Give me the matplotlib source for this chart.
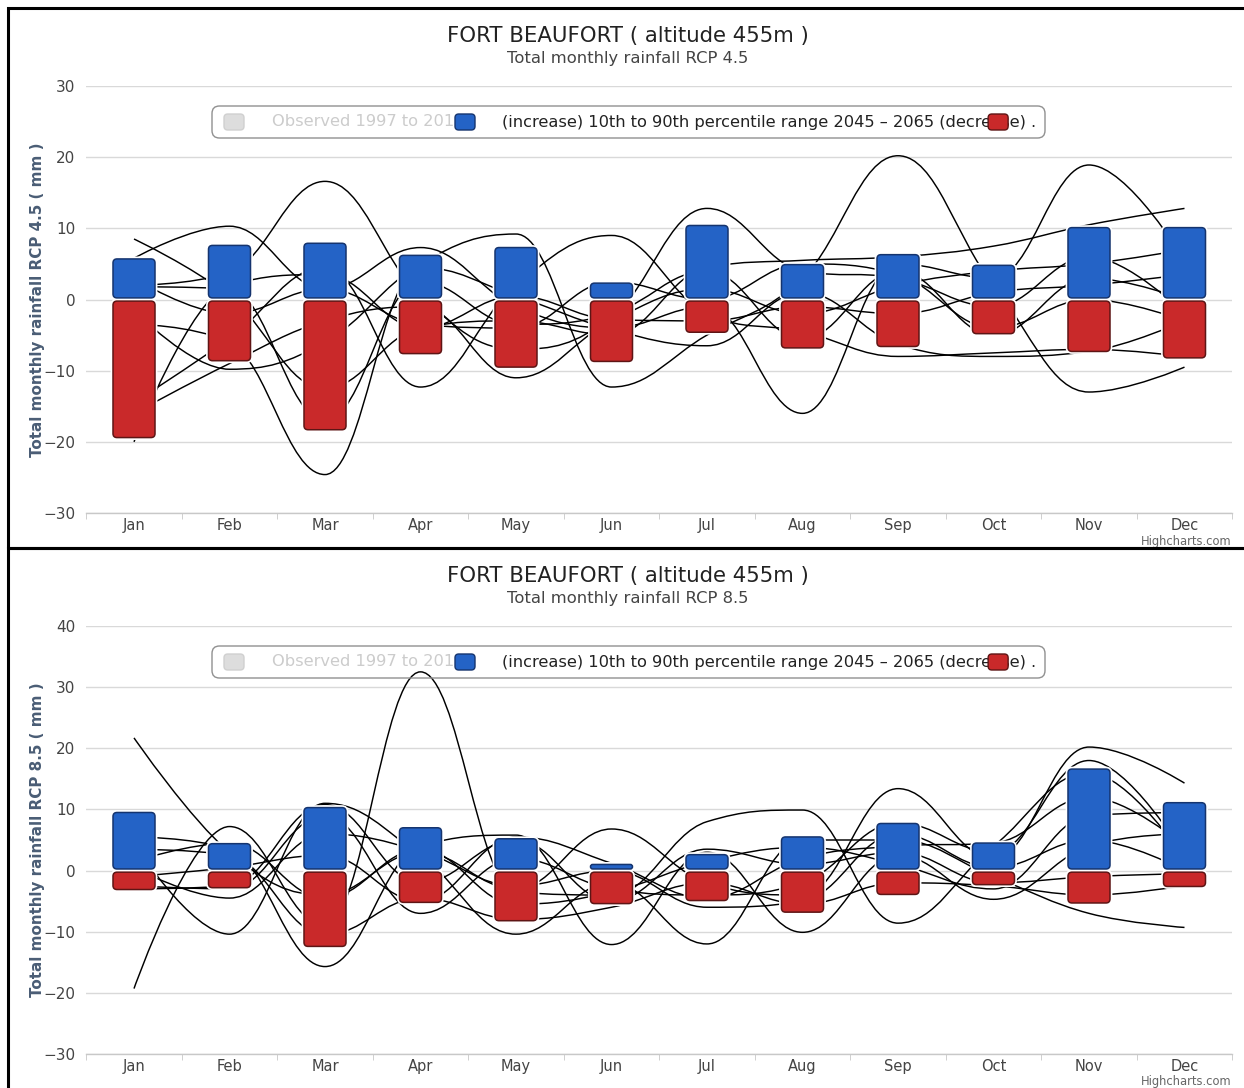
import matplotlib
matplotlib.use("Agg")
import matplotlib.pyplot as plt
import numpy as np
from matplotlib.path import Path
from matplotlib.patches import PathPatch, FancyBboxPatch, Rectangle

months = ['Jan', 'Feb', 'Mar', 'Apr', 'May', 'Jun',
          'Jul', 'Aug', 'Sep', 'Oct', 'Nov', 'Dec']

# 10th-90th percentile range 2045-2065, RCP 4.5 (mm)
rcp45_increase = [5.7, 7.6, 7.9, 6.2, 7.3, 2.3, 10.4, 4.9, 6.3, 4.8, 10.1, 10.1]
rcp45_decrease = [-19.4, -8.6, -18.3, -7.6, -9.5, -8.7, -4.6, -6.8, -6.6, -4.8, -7.3, -8.2]

# individual model projections, RCP 4.5 (mm)
rcp45_models = [
    [8.5, 0.5, -12.5, -4.0, -3.0, -5.0, 4.5, 5.5, 6.0, 7.5, 10.5, 12.8],
    [2.0, 3.8, 16.6, 0.5, -7.0, -2.5, 12.8, 4.0, 3.0, -1.0, 6.0, -2.0],
    [5.8, 10.3, 1.5, 7.3, -1.0, -4.0, -1.0, -16.0, 5.0, 3.0, 18.9, 5.5],
    [-1.5, -9.8, -6.0, 5.0, 9.2, -12.3, -5.0, 3.0, 20.2, 2.0, -13.0, -9.5],
    [-3.5, -6.0, -24.6, 4.5, 0.5, -4.2, -6.5, 1.0, -6.3, -8.0, -7.3, -3.0],
    [-14.5, -5.5, 4.5, -12.3, 2.0, 9.0, -2.0, -4.5, -8.0, -7.5, -7.0, -8.0],
    [-16.0, -9.0, -3.0, -1.0, -11.0, -3.0, 1.5, -2.0, 2.0, 4.0, 5.0, 7.0],
    [1.8, 1.5, -17.0, 2.5, -3.5, -2.0, 4.0, -5.5, 4.0, -5.0, 3.0, 0.0],
    [-20.0, 2.0, 3.5, -4.0, 0.5, -2.8, -3.0, -1.0, -2.0, 1.0, 2.0, 3.5],
    [3.0, -2.0, 1.5, -3.5, -4.0, 2.5, 0.0, 5.0, 3.5, -4.0, 0.0, -3.0],
]

# 10th-90th percentile range 2045-2065, RCP 8.5 (mm)
rcp85_increase = [9.5, 4.4, 10.3, 7.0, 5.2, 1.0, 2.6, 5.5, 7.7, 4.5, 16.6, 11.1]
rcp85_decrease = [-3.1, -2.8, -12.4, -5.2, -8.2, -5.4, -4.9, -6.8, -3.9, -2.3, -5.3, -2.6]

# individual model projections, RCP 8.5 (mm)
rcp85_models = [
    [21.7, 3.0, -4.0, 3.0, -3.0, 6.8, -2.0, -4.0, 13.4, 2.0, 20.2, 14.3],
    [-19.3, 7.2, -9.0, 32.5, -3.5, -4.0, 8.0, 9.9, -8.6, 4.0, 16.0, 2.0],
    [4.5, -10.4, 11.0, 2.5, -10.4, -2.0, -12.0, 5.0, 5.0, -1.0, -7.0, -9.3],
    [5.5, 3.5, -15.7, 4.0, 5.8, -12.1, 3.0, -10.1, 2.5, -4.7, 4.0, 6.0],
    [-2.5, -3.0, 9.0, -7.0, 2.0, -3.0, -4.0, -2.0, 7.8, 3.0, 18.0, 2.5],
    [1.5, 4.5, -4.5, 3.5, -5.5, -3.5, 1.5, 3.8, 1.0, -3.0, 9.0, 9.5],
    [-3.0, -2.5, 10.8, -2.0, 5.0, -5.0, 3.5, 1.0, 3.0, -2.0, -1.0, -0.5],
    [0.5, -4.5, 6.0, 3.2, -2.5, 0.0, -6.0, -5.0, 6.0, 0.5, 5.0, 0.0],
    [3.5, 2.5, -10.5, -4.5, -8.0, -6.0, -2.0, -5.5, -2.0, -2.5, -4.0, -2.5],
    [-1.0, 0.5, 2.5, -5.0, 5.5, 1.2, -4.5, 2.0, 4.0, 4.5, 12.0, 4.0],
]

BLUE = '#2463c6'
BLUE_EDGE = '#15346e'
RED = '#c9292a'
RED_EDGE = '#5e1515'
W, H = 1244, 1088

fig = plt.figure(figsize=(W / 100, H / 100), dpi=100)
fig.patch.set_facecolor('white')
renderer = fig.canvas.get_renderer()


def fx(px):
    return px / W


def fy(py):
    return 1 - py / H


def text_width(s, size):
    t = fig.text(0, 0, s, fontsize=size)
    w = t.get_window_extent(renderer).width
    t.remove()
    return w


def spline_path(xs, ys, smoothing=1.5):
    # Highcharts-style spline: cubic segments with smoothed control points
    n = len(xs)
    den = smoothing + 1
    lc, rc = [], []
    for i in range(n):
        x, y = xs[i], ys[i]
        if 0 < i < n - 1:
            lx, ly = xs[i - 1], ys[i - 1]
            nx, ny = xs[i + 1], ys[i + 1]
            lcx = (smoothing * x + lx) / den
            lcy = (smoothing * y + ly) / den
            rcx = (smoothing * x + nx) / den
            rcy = (smoothing * y + ny) / den
            corr = (rcy - lcy) * (rcx - x) / (rcx - lcx) + y - rcy
            lcy += corr
            rcy += corr
            if lcy > ly and lcy > y:
                lcy = max(ly, y)
                rcy = 2 * y - lcy
            elif lcy < ly and lcy < y:
                lcy = min(ly, y)
                rcy = 2 * y - lcy
            if rcy > ny and rcy > y:
                rcy = max(ny, y)
                lcy = 2 * y - rcy
            elif rcy < ny and rcy < y:
                rcy = min(ny, y)
                lcy = 2 * y - rcy
            lc.append((lcx, lcy))
            rc.append((rcx, rcy))
        else:
            lc.append((x, y))
            rc.append((x, y))
    verts = [(xs[0], ys[0])]
    codes = [Path.MOVETO]
    for i in range(1, n):
        verts += [rc[i - 1], lc[i], (xs[i], ys[i])]
        codes += [Path.CURVE4] * 3
    return Path(verts, codes)


def rounded_bar(ax, x, y0, y1, width, color, edge, px_x, px_y):
    # column with rounded corners; px_x / px_y are pixels per data unit
    h = abs(y1 - y0)
    aspect = px_x / px_y
    r = min(4.0 / px_x, 0.5 * h / aspect, 0.5 * width)
    bottom = min(y0, y1)
    for lw, fc, ec, z in [(3.5, 'white', 'white', 3), (1.1, color, edge, 4)]:
        p = FancyBboxPatch((x - width / 2, bottom), width, h,
                           boxstyle=f"round,pad=0,rounding_size={r}",
                           mutation_aspect=aspect, facecolor=fc,
                           edgecolor=ec, linewidth=lw, zorder=z)
        ax.add_patch(p)


def legend_square(x0, yc, fc, ec):
    fig.add_artist(FancyBboxPatch((fx(x0), fy(yc + 8)), fx(20), fy(yc - 8) - fy(yc + 8),
                                  boxstyle='round,pad=0,rounding_size=0.003',
                                  mutation_aspect=W / H,
                                  transform=fig.transFigure, facecolor=fc,
                                  edgecolor=ec, linewidth=1.0, zorder=7))


LEG_SIZE = 11.7
LEG_TEXT = ('(increase) 10th to 90th percentile range 2045 \u2013 2065 '
            '(decrease) .')
# the red symbol lands on top of the "as" of "decrease"
red_x = 502 + text_width(LEG_TEXT[:LEG_TEXT.rindex('ase')], LEG_SIZE) - 3


def draw_panel(top_px, bottom_px, ymin, ymax, inc, dec, models, rcp, panel_top):
    ax = fig.add_axes([fx(86.25), fy(bottom_px), fx(1232.25) - fx(86.25),
                       fy(top_px) - fy(bottom_px)])
    ax.set_xlim(-0.5, 11.5)
    ax.set_ylim(ymin, ymax)
    ax.set_facecolor('none')
    ax.set_yticks(np.arange(ymin, ymax + 1, 10))
    ax.grid(axis='y', color='#d9d9d9', linewidth=1.0, zorder=0)
    ax.set_axisbelow(True)
    for s in ['top', 'right', 'left']:
        ax.spines[s].set_visible(False)
    ax.spines['bottom'].set_color('#c8c8c8')
    ax.spines['bottom'].set_linewidth(1.0)

    ax.set_xticks(range(12))
    ax.set_xticklabels(months)
    ax.set_xticks(np.arange(-0.5, 12, 1), minor=True)
    ax.tick_params(axis='x', which='major', length=0, pad=3.5,
                   labelsize=10.5, labelcolor='#444444')
    ax.tick_params(axis='x', which='minor', length=4, color='#c8c8c8')
    ax.tick_params(axis='y', length=0, pad=8, labelsize=11,
                   labelcolor='#444444')

    x = np.arange(12)
    for m in models:
        ax.add_patch(PathPatch(spline_path(x, m), facecolor='none',
                               edgecolor='black', linewidth=1.05, zorder=2))

    p0 = ax.transData.transform((0, 0))
    p1 = ax.transData.transform((1, 1))
    px_x, px_y = p1[0] - p0[0], p1[1] - p0[1]
    gap = 1.6 / px_y
    bw = 42 / px_x
    for i in range(12):
        rounded_bar(ax, i, gap, inc[i], bw, BLUE, BLUE_EDGE, px_x, px_y)
        rounded_bar(ax, i, -gap, dec[i], bw, RED, RED_EDGE, px_x, px_y)

    # titles
    fig.text(fx(628), fy(panel_top + 28), 'FORT BEAUFORT ( altitude 455m )',
             ha='center', va='center', fontsize=15.3, color='#222222')
    fig.text(fx(628), fy(panel_top + 50), f'Total monthly rainfall RCP {rcp}',
             ha='center', va='center', fontsize=11.8, color='#444444')
    fig.text(fx(38), fy((top_px + bottom_px) / 2),
             f'Total monthly rainfall RCP {rcp} ( mm )', rotation=90,
             ha='center', va='center', fontsize=10.9, fontweight='bold',
             color='#4a5d75')
    fig.text(fx(1232), fy(bottom_px + 28), 'Highcharts.com', ha='right',
             va='center', fontsize=8.3, color='#666666')

    # legend (items overlap as in the original layout)
    ly = panel_top + 114
    fig.add_artist(FancyBboxPatch((fx(212), fy(ly + 16)), fx(1045) - fx(212),
                                  fy(ly - 16) - fy(ly + 16),
                                  boxstyle='round,pad=0,rounding_size=0.006',
                                  mutation_aspect=W / H,
                                  transform=fig.transFigure, facecolor='none',
                                  edgecolor='#909090', linewidth=1.0, zorder=5))
    fig.text(fx(272), fy(ly), 'Observed 1997 to 2014', ha='left', va='center',
             fontsize=LEG_SIZE, color='#cccccc', zorder=6)
    fig.text(fx(502), fy(ly), LEG_TEXT, ha='left', va='center',
             fontsize=LEG_SIZE, color='#222222', zorder=6)
    legend_square(224, ly, '#dddddd', '#d0d0d0')
    legend_square(455, ly, BLUE, BLUE_EDGE)
    legend_square(red_x, ly, RED, RED_EDGE)
    return ax


draw_panel(86, 513, -30, 30, rcp45_increase, rcp45_decrease, rcp45_models, '4.5', 8)
draw_panel(626, 1054, -30, 40, rcp85_increase, rcp85_decrease, rcp85_models, '8.5', 548)

# panel frames
for top, bottom in [(8, 548), (548, 1100)]:
    fig.add_artist(Rectangle((fx(8), fy(bottom)), fx(1260) - fx(8),
                             fy(top) - fy(bottom), transform=fig.transFigure,
                             facecolor='none', edgecolor='black',
                             linewidth=2.2, zorder=10))

fig.savefig('out.png', dpi=100)
